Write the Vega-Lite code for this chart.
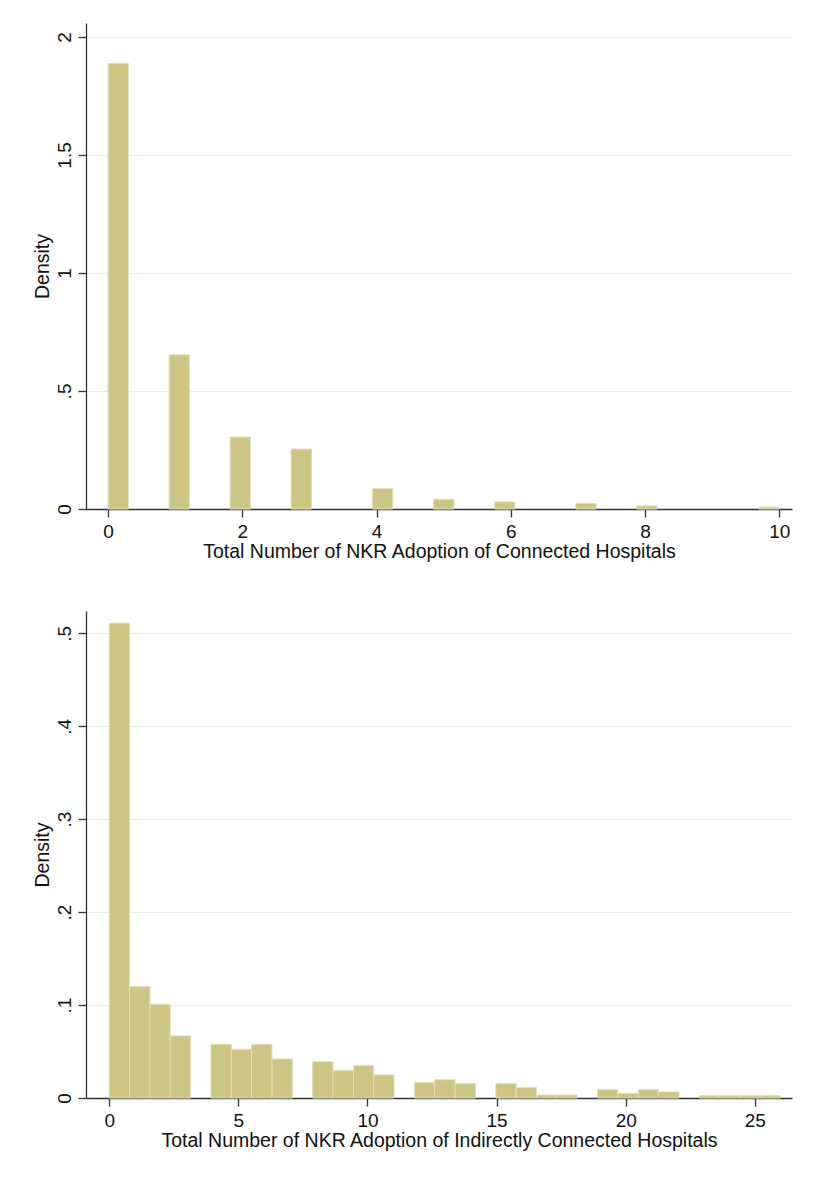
{
  "$schema": "https://vega.github.io/schema/vega-lite/v6.json",
  "padding": {"top": 23, "left": 32, "right": 10, "bottom": 10},
  "background": "white",
  "spacing": 102,
  "bounds": "flush",
  "datasets": {
    "connected": [
      {"value": 0, "start": 0.0, "end": 0.30303, "density": 1.888},
      {"value": 1, "start": 0.90909, "end": 1.21212, "density": 0.653},
      {"value": 2, "start": 1.81818, "end": 2.12121, "density": 0.305},
      {"value": 3, "start": 2.72727, "end": 3.0303, "density": 0.254},
      {"value": 4, "start": 3.93939, "end": 4.24242, "density": 0.086},
      {"value": 5, "start": 4.84848, "end": 5.15152, "density": 0.041},
      {"value": 6, "start": 5.75758, "end": 6.06061, "density": 0.030},
      {"value": 7, "start": 6.9697, "end": 7.27273, "density": 0.024},
      {"value": 8, "start": 7.87879, "end": 8.18182, "density": 0.013},
      {"value": 10, "start": 9.69697, "end": 10.0, "density": 0.008}
    ],
    "indirect": [
      {"start": 0.0, "end": 0.7879, "density": 0.511},
      {"start": 0.7879, "end": 1.5758, "density": 0.120},
      {"start": 1.5758, "end": 2.3636, "density": 0.101},
      {"start": 2.3636, "end": 3.1515, "density": 0.0668},
      {"start": 3.9394, "end": 4.7273, "density": 0.0578},
      {"start": 4.7273, "end": 5.5152, "density": 0.0524},
      {"start": 5.5152, "end": 6.303, "density": 0.0578},
      {"start": 6.303, "end": 7.0909, "density": 0.042},
      {"start": 7.8788, "end": 8.6667, "density": 0.0391},
      {"start": 8.6667, "end": 9.4545, "density": 0.0298},
      {"start": 9.4545, "end": 10.2424, "density": 0.0351},
      {"start": 10.2424, "end": 11.0303, "density": 0.0248},
      {"start": 11.8182, "end": 12.6061, "density": 0.0168},
      {"start": 12.6061, "end": 13.3939, "density": 0.0197},
      {"start": 13.3939, "end": 14.1818, "density": 0.0154},
      {"start": 14.9697, "end": 15.7576, "density": 0.0154},
      {"start": 15.7576, "end": 16.5455, "density": 0.0114},
      {"start": 16.5455, "end": 17.3333, "density": 0.0032},
      {"start": 17.3333, "end": 18.1212, "density": 0.0032},
      {"start": 18.9091, "end": 19.697, "density": 0.0089},
      {"start": 19.697, "end": 20.4848, "density": 0.005},
      {"start": 20.4848, "end": 21.2727, "density": 0.0089},
      {"start": 21.2727, "end": 22.0606, "density": 0.0065},
      {"start": 22.8485, "end": 23.6364, "density": 0.0025},
      {"start": 23.6364, "end": 24.4242, "density": 0.0025},
      {"start": 24.4242, "end": 25.2121, "density": 0.0025},
      {"start": 25.2121, "end": 26.0, "density": 0.0025}
    ]
  },
  "vconcat": [
    {
      "width": 706,
      "height": 486,
      "data": {"name": "connected"},
      "mark": {"type": "bar", "color": "#ccc584", "stroke": "#e3dfbc", "strokeWidth": 1},
      "encoding": {
        "x": {
          "field": "start", "type": "quantitative",
          "scale": {"domain": [-0.328, 10.19], "nice": false, "zero": false},
          "axis": {"values": [0, 2, 4, 6, 8, 10], "title": "Total Number of NKR Adoption of Connected Hospitals", "grid": false}
        },
        "x2": {"field": "end"},
        "y": {
          "field": "density", "type": "quantitative",
          "scale": {"domain": [0, 2.059], "nice": false},
          "axis": {"values": [0, 0.5, 1, 1.5, 2], "title": "Density", "grid": true, "format": "~g",
            "labelExpr": "datum.value > 0 && datum.value < 1 ? substring(datum.label, 1) : datum.label"}
        },
        "y2": {"datum": 0}
      }
    },
    {
      "width": 706,
      "height": 487,
      "data": {"name": "indirect"},
      "mark": {"type": "bar", "color": "#ccc584", "stroke": "#e3dfbc", "strokeWidth": 1},
      "encoding": {
        "x": {
          "field": "start", "type": "quantitative",
          "scale": {"domain": [-0.9, 26.44], "nice": false, "zero": false},
          "axis": {"values": [0, 5, 10, 15, 20, 25], "title": "Total Number of NKR Adoption of Indirectly Connected Hospitals", "grid": false}
        },
        "x2": {"field": "end"},
        "y": {
          "field": "density", "type": "quantitative",
          "scale": {"domain": [0, 0.524], "nice": false},
          "axis": {"values": [0, 0.1, 0.2, 0.3, 0.4, 0.5], "title": "Density", "grid": true, "format": "~g",
            "labelExpr": "datum.value > 0 && datum.value < 1 ? substring(datum.label, 1) : datum.label"}
        },
        "y2": {"datum": 0}
      }
    }
  ],
  "config": {
    "view": {"stroke": null},
    "font": "Liberation Sans",
    "axis": {
      "domainColor": "#333333",
      "domainWidth": 1.3,
      "tickColor": "#333333",
      "tickWidth": 1.3,
      "tickSize": 8,
      "labelFont": "Liberation Sans",
      "labelFontSize": 19,
      "labelColor": "#111111",
      "titleFont": "Liberation Sans",
      "titleFontSize": 19.5,
      "titleFontWeight": "normal",
      "titleColor": "#111111",
      "gridColor": "#e8f0f0",
      "gridWidth": 1
    },
    "axisX": {"labelPadding": 5, "titlePadding": 1, "labelFlush": false},
    "axisY": {"labelAngle": 270, "labelAlign": "center", "labelBaseline": "bottom", "labelPadding": 4, "titlePadding": 3, "labelFlush": false}
  }
}
